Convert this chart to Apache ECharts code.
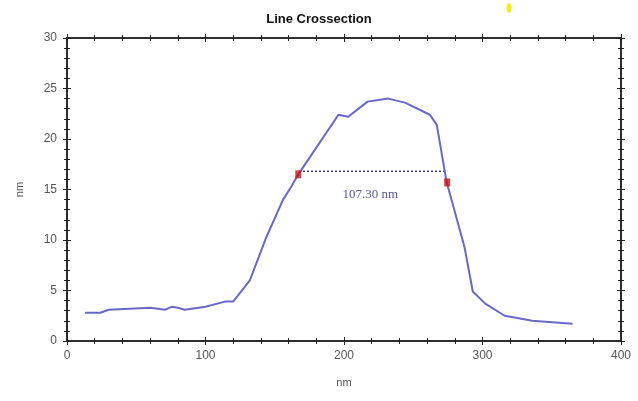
<!DOCTYPE html>
<html>
<head>
<meta charset="utf-8">
<script src="https://cdn.jsdelivr.net/npm/echarts@6/dist/echarts.min.js"></script>
<style>html,body{margin:0;padding:0;background:#fff}#c{width:638px;height:401px}</style>
</head>
<body>
<div id="c"></div>
<script>
var xValues = [13, 24, 30, 45, 60, 71, 76, 80, 85, 100, 114, 120, 132, 144, 156, 162, 167, 196, 203, 217, 232, 244, 262, 267, 274, 287, 293, 302, 316, 336, 365];
var yValues = [2.8, 2.8, 3.1, 3.2, 3.3, 3.1, 3.4, 3.3, 3.1, 3.4, 3.9, 3.9, 6.0, 10.3, 14.0, 15.3, 16.5, 22.4, 22.2, 23.7, 24.0, 23.6, 22.4, 21.4, 15.8, 9.3, 4.9, 3.7, 2.5, 2.0, 1.7];
var markerX = [167, 274.5];
var markerY = [16.5, 15.7];
var measureX = [167.5, 274.5];
var measureY = [16.8, 16.8];
var measureLabel = '107.30 nm';
var labelPos = [219, 14.5];
var xTicks = [0, 100, 200, 300, 400];
var yTicks = [0, 5, 10, 15, 20, 25, 30];

var chart = echarts.init(document.getElementById('c'));
var font = 'Arial, Liberation Sans';
var axisLine = {show: true, onZero: false, lineStyle: {color: '#222', width: 1.5}};
function xa(g, pos, inside, labels) {
  return {
    gridIndex: g, type: 'value', position: pos, min: xTicks[0], max: xTicks[xTicks.length-1], interval: 100,
    axisLine: axisLine, splitLine: {show: false},
    axisTick: {show: true, inside: inside, length: 4, lineStyle: {color: '#222'}},
    minorTick: {show: true, splitNumber: 5, length: 3, lineStyle: {color: '#222'}},
    axisLabel: {show: labels, color: '#555', fontSize: 12, fontFamily: font, margin: 9},
    name: labels ? 'nm' : '', nameLocation: 'middle', nameGap: 36,
    nameTextStyle: {color: '#555', fontSize: 11, fontFamily: font}
  };
}
function ya(g, pos, inside, labels) {
  return {
    gridIndex: g, type: 'value', position: pos, min: yTicks[0], max: yTicks[yTicks.length-1], interval: 5,
    axisLine: axisLine, splitLine: {show: false},
    axisTick: {show: true, inside: inside, length: 4, lineStyle: {color: '#222'}},
    minorTick: {show: true, splitNumber: 5, length: 3, lineStyle: {color: '#222'}},
    axisLabel: {show: labels, color: '#555', fontSize: 12, fontFamily: font, margin: 10},
    name: labels ? 'nm' : '', nameLocation: 'middle', nameGap: 42,
    nameTextStyle: {color: '#555', fontSize: 11, fontFamily: font}
  };
}
var lineData = xValues.map(function (x, i) { return [x, yValues[i]]; });
var markData = markerX.map(function (x, i) { return [x, markerY[i]]; });
var measData = measureX.map(function (x, i) { return [x, measureY[i]]; });
var g = {left: 67, right: 17, top: 38, bottom: 60};

chart.setOption({
  animation: false,
  backgroundColor: '#fff',
  title: {text: 'Line Crossection', left: 'center', top: 8,
    textStyle: {fontSize: 13, fontWeight: 'bold', color: '#111', fontFamily: font}},
  grid: [g, g, g, g],
  xAxis: [xa(0, 'bottom', false, true), xa(1, 'bottom', true, false), xa(2, 'top', true, false), xa(3, 'top', false, false)],
  yAxis: [ya(0, 'left', false, true), ya(1, 'left', true, false), ya(2, 'right', true, false), ya(3, 'right', false, false)],
  graphic: [{type: 'ellipse', shape: {cx: 509, cy: 8, rx: 2.5, ry: 5}, style: {fill: '#f2ea1a'}}],
  series: [
    {type: 'line', data: lineData, symbol: 'none', lineStyle: {color: '#6a68c6', width: 2}, z: 3},
    {type: 'line', data: measData, symbol: 'none', lineStyle: {color: '#3a3a7a', width: 1.5, type: [2, 2]}, z: 2},
    {type: 'scatter', data: markData, symbol: 'rect', symbolSize: [6, 8], itemStyle: {color: '#cc1111'}, z: 4},
    {type: 'scatter', data: [labelPos], symbolSize: 0, z: 5,
      label: {show: true, position: 'inside', formatter: measureLabel, color: '#2a2a7a', fontSize: 13,
        fontFamily: 'Liberation Serif, DejaVu Serif, serif'}},
    {type: 'line', xAxisIndex: 1, yAxisIndex: 1, data: [], silent: true},
    {type: 'line', xAxisIndex: 2, yAxisIndex: 2, data: [], silent: true},
    {type: 'line', xAxisIndex: 3, yAxisIndex: 3, data: [], silent: true}
  ]
});
</script>
</body>
</html>
